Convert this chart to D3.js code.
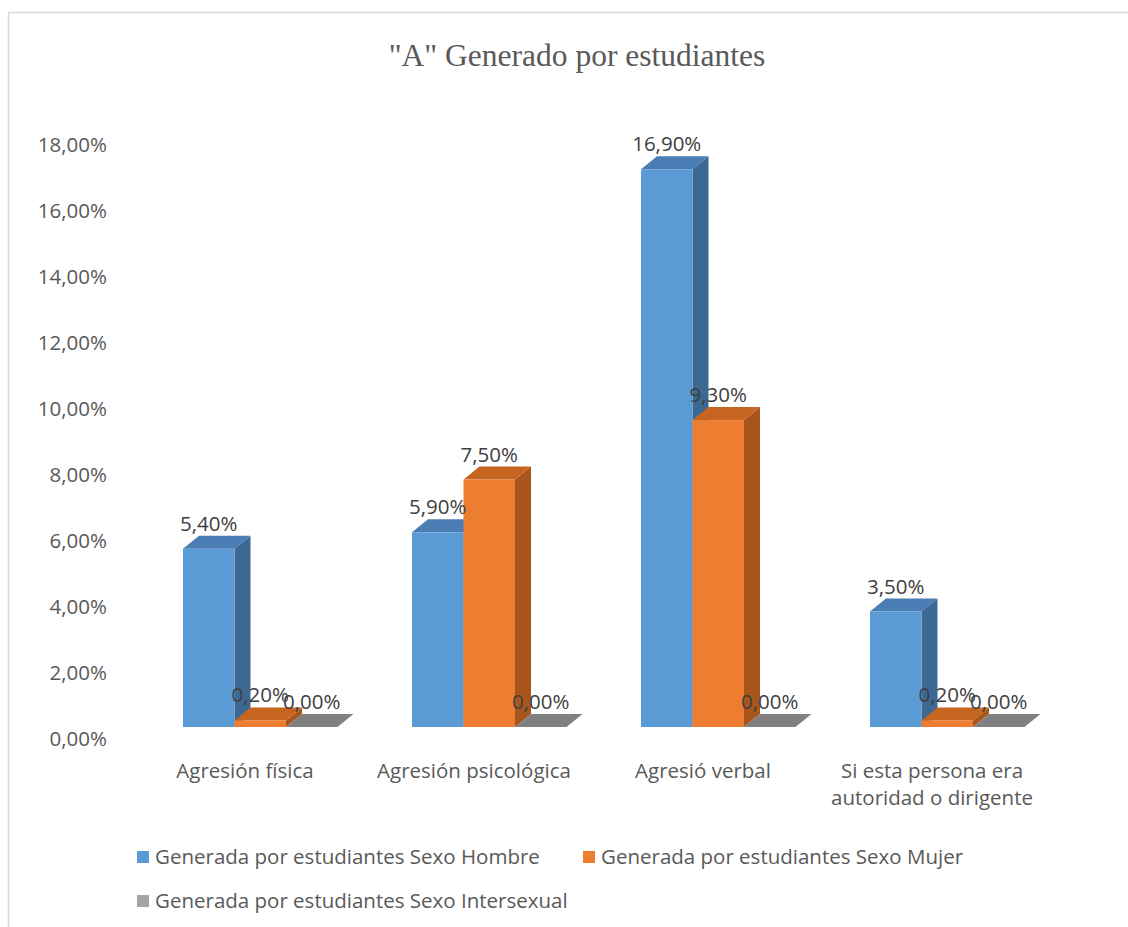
<!DOCTYPE html>
<html>
<head>
<meta charset="utf-8">
<script src="https://cdn.jsdelivr.net/npm/d3@7"></script>
<style>
  body { margin: 0; background: #fff; }
  svg { display: block; }
</style>
</head>
<body>
<div id="chart"></div>
<script>
const width = 1128;
const height = 927;

// Data
const categories = ["Agresión física", "Agresión psicológica", "Agresió verbal", "Si esta persona era autoridad o dirigente"];
const series = ["Generada por estudiantes Sexo Hombre", "Generada por estudiantes Sexo Mujer", "Generada por estudiantes Sexo Intersexual"];
const hombre = [0.054, 0.059, 0.169, 0.035];
const mujer = [0.002, 0.075, 0.093, 0.002];
const intersexual = [0.000, 0.000, 0.000, 0.000];
const yTicks = [0, 0.02, 0.04, 0.06, 0.08, 0.10, 0.12, 0.14, 0.16, 0.18];

const values = [hombre, mujer, intersexual];

// face colours: front, top, side
const colors = [
  { front: "#5b9bd5", top: "#4a7db3", side: "#3c6894" },
  { front: "#ed7d31", top: "#c6651f", side: "#a9561c" },
  { front: "#a5a5a5", top: "#808080", side: "#6f6f6f" }
];

const textColor = "#595959";
const font = "'Open Sans', sans-serif";

const locale = d3.formatLocale({ decimal: ",", thousands: ".", grouping: [3], currency: ["", "€"] });
const fmt = locale.format(".2%");

const svg = d3.select("#chart").append("svg")
  .attr("width", width)
  .attr("height", height)
  .attr("viewBox", [0, 0, width, height]);

// Chart border (top and left visible)
svg.append("path")
  .attr("d", `M8.5,${height} V12.5 H${width}`)
  .attr("fill", "none")
  .attr("stroke", "#d9d9d9")
  .attr("stroke-width", 1.5);

// Title
svg.append("text")
  .attr("x", 577)
  .attr("y", 66)
  .attr("text-anchor", "middle")
  .attr("font-family", "'Liberation Serif', 'Times New Roman', serif")
  .attr("font-size", 31.5)
  .attr("fill", textColor)
  .text("\"A\" Generado por estudiantes");

// Scales
const y = d3.scaleLinear()
  .domain([0, 0.18])
  .range([739, 145]);

const x = d3.scaleBand()
  .domain(categories)
  .range([130.5, 1046.5]);

const barW = 51.5;
const x1 = d3.scaleBand()
  .domain(d3.range(series.length))
  .range([0, barW * series.length]);

// 3D projection parameters
const floorShift = 12; // front floor sits above the axis zero line
const dx = 16;
const dy = 13;
const groupOffset = -62;

// Y axis labels
const yAxis = svg.append("g")
  .attr("transform", "translate(107,0)")
  .call(d3.axisLeft(y).tickValues(yTicks).tickFormat(fmt).tickSize(0).tickPadding(0));
yAxis.select(".domain").remove();
yAxis.selectAll("text")
  .attr("font-family", font)
  .attr("font-size", 20.5)
  .attr("fill", textColor);

// Bars
const bars = [];
categories.forEach((c, ci) => {
  values.forEach((vals, si) => {
    bars.push({ c, ci, si, v: vals[ci] });
  });
});

const barG = svg.append("g");

bars.forEach(d => {
  const x0 = x(d.c) + x.bandwidth() / 2 + groupOffset + x1(d.si);
  const w = x1.bandwidth();
  const base = y(0) - floorShift;
  const top = y(d.v) - floorShift;
  const col = colors[d.si];
  const g = barG.append("g");

  // side face
  g.append("path")
    .attr("d", `M${x0 + w},${top} L${x0 + w + dx},${top - dy} L${x0 + w + dx},${base - dy} L${x0 + w},${base} Z`)
    .attr("fill", col.side);
  // top face
  g.append("path")
    .attr("d", `M${x0},${top} L${x0 + dx},${top - dy} L${x0 + w + dx},${top - dy} L${x0 + w},${top} Z`)
    .attr("fill", col.top);
  // front face
  g.append("rect")
    .attr("x", x0)
    .attr("y", top)
    .attr("width", w)
    .attr("height", base - top)
    .attr("fill", col.front);
  d.labelX = x0 + w / 2;
  d.labelY = top - dy - 5;
});

// Data labels
svg.append("g")
  .selectAll("text")
  .data(bars)
  .join("text")
  .attr("x", d => d.labelX)
  .attr("y", d => d.labelY)
  .attr("text-anchor", "middle")
  .attr("font-family", font)
  .attr("font-size", 20.5)
  .attr("fill", "#404040")
  .text(d => fmt(d.v));

// Category labels
const catLines = {
  "Si esta persona era autoridad o dirigente": ["Si esta persona era", "autoridad o dirigente"]
};
svg.append("g")
  .selectAll("text")
  .data(categories)
  .join("text")
  .attr("x", d => x(d) + x.bandwidth() / 2)
  .attr("y", 778)
  .attr("text-anchor", "middle")
  .attr("font-family", font)
  .attr("font-size", 20.5)
  .attr("fill", textColor)
  .each(function (d) {
    const lines = catLines[d] || [d];
    d3.select(this).selectAll("tspan")
      .data(lines)
      .join("tspan")
      .attr("x", x(d) + x.bandwidth() / 2)
      .attr("dy", (l, i) => i === 0 ? 0 : 27)
      .text(l => l);
  });

// Legend
const legendPos = [[137, 857], [583, 857], [137, 901]];
const legend = svg.append("g")
  .selectAll("g")
  .data(series)
  .join("g")
  .attr("transform", (d, i) => `translate(${legendPos[i][0]},${legendPos[i][1]})`);

legend.append("rect")
  .attr("x", 0)
  .attr("y", -6)
  .attr("width", 12)
  .attr("height", 12)
  .attr("fill", (d, i) => colors[i].front);

legend.append("text")
  .attr("x", 18)
  .attr("y", 0)
  .attr("dy", "0.35em")
  .attr("font-family", font)
  .attr("font-size", 20.5)
  .attr("fill", textColor)
  .text(d => d);
</script>
</body>
</html>
